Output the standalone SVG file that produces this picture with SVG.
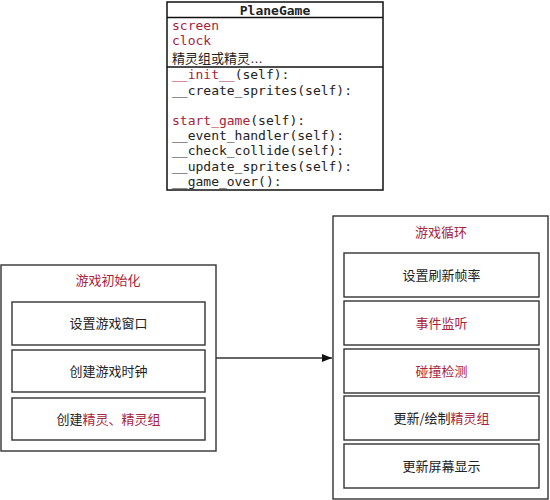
<svg xmlns="http://www.w3.org/2000/svg" width="550" height="500" viewBox="0 0 550 500">
<defs>
<style>
.box{fill:#fff;stroke:#333;stroke-width:1.4}
.cls{fill:#fff;stroke:#111;stroke-width:1.5}
.mono{font-family:"DejaVu Sans Mono","Liberation Mono",monospace;font-size:13px;fill:#222}
.cjk{font-family:"Noto Sans CJK SC","Noto Sans",sans-serif;font-size:13px;fill:#222}
.red{fill:#a8243c}
.ttl{font-weight:bold}
.c{text-anchor:middle}
.ell{font-family:"Liberation Sans",sans-serif}
</style>
<marker id="ah" viewBox="0 0 10 8" refX="10" refY="4" markerWidth="10" markerHeight="8" markerUnits="userSpaceOnUse" orient="auto">
<path d="M0,0 L10,4 L0,8 Z" fill="#111"/>
</marker>
</defs>
<rect width="550" height="500" fill="#fff"/>
<g id="PlaneGame">
<rect class="cls" x="167" y="2" width="216" height="188"/>
<line x1="167" y1="17.5" x2="383" y2="17.5" stroke="#111" stroke-width="1.5"/>
<line x1="167" y1="67" x2="383" y2="67" stroke="#111" stroke-width="1.5"/>
<text class="mono ttl c" x="275" y="14.5">PlaneGame</text>
<text class="mono red" x="172" y="30">screen</text>
<text class="mono red" x="172" y="45">clock</text>
<text class="cjk" x="172" y="62.5">精灵组或精灵<tspan class="ell">…</tspan></text>
<text class="mono" x="172" y="79"><tspan class="red">__init__</tspan>(self):</text>
<text class="mono" x="172" y="94.5">__create_sprites(self):</text>
<text class="mono" x="172" y="124.5"><tspan class="red">start_game</tspan>(self):</text>
<text class="mono" x="172" y="139.5">__event_handler(self):</text>
<text class="mono" x="172" y="155">__check_collide(self):</text>
<text class="mono" x="172" y="170.5">__update_sprites(self):</text>
<text class="mono" x="172" y="186">__game_over():</text>
</g>
<g id="init">
<rect class="box" x="1" y="265" width="215" height="186"/>
<text class="cjk red c" x="108" y="285">游戏初始化</text>
<rect class="box" x="12" y="302" width="193" height="43"/>
<text class="cjk c" x="108.5" y="328">设置游戏窗口</text>
<rect class="box" x="12" y="350" width="193" height="42"/>
<text class="cjk c" x="108.5" y="376">创建游戏时钟</text>
<rect class="box" x="12" y="398" width="193" height="42"/>
<text class="cjk c" x="108.5" y="424">创建<tspan class="red">精灵、精灵组</tspan></text>
</g>
<g id="loop">
<rect class="box" x="333" y="216" width="215" height="283"/>
<text class="cjk red c" x="441" y="237">游戏循环</text>
<rect class="box" x="344" y="253" width="195" height="44"/>
<text class="cjk c" x="441.5" y="280">设置刷新帧率</text>
<rect class="box" x="344" y="301" width="195" height="44"/>
<text class="cjk red c" x="441.5" y="328">事件监听</text>
<rect class="box" x="344" y="349" width="195" height="44"/>
<text class="cjk red c" x="441.5" y="376">碰撞检测</text>
<rect class="box" x="344" y="396" width="195" height="44"/>
<text class="cjk c" x="441.5" y="423">更新/绘制<tspan class="red">精灵组</tspan></text>
<rect class="box" x="344" y="444" width="195" height="44"/>
<text class="cjk c" x="441.5" y="471">更新屏幕显示</text>
</g>
<g id="connectors">
<line x1="216" y1="358" x2="332" y2="358" stroke="#333" stroke-width="1.5" marker-end="url(#ah)"/>
</g>
</svg>
